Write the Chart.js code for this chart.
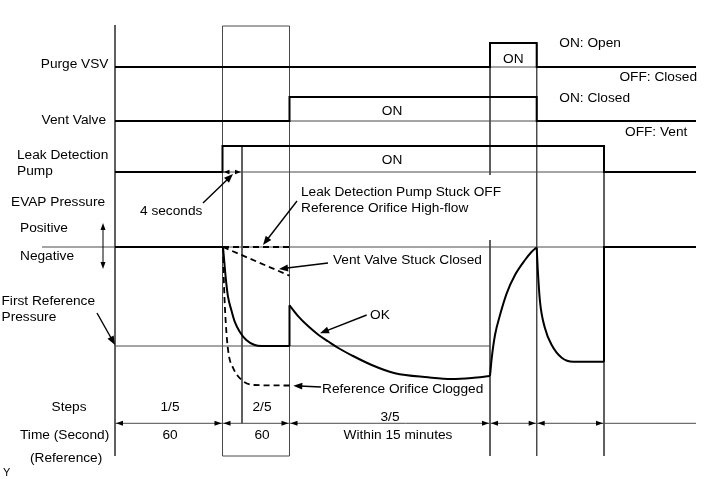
<!DOCTYPE html>
<html lang="en">
<head>
<meta charset="UTF-8" />
<title>EVAP Leak Check Timing</title>
<script src="https://cdn.jsdelivr.net/npm/chart.js@4.4.1/dist/chart.umd.min.js"></script>
<style>
  html, body { margin: 0; padding: 0; background: #fff; }
  #wrap { width: 711px; height: 479px; position: relative; }
</style>
</head>
<body>
<div id="wrap"><canvas id="timing"></canvas></div>
<script>
// --- data (diagram units: x = time position, y = signal level) ---
// digital signals: transition times and states (1 = ON)
const purgeTimes = [115, 490, 536.7, 696];
const purgeStates = [0, 1, 0, 0];
const ventTimes = [115, 289.5, 536.7, 696];
const ventStates = [0, 1, 0, 0];
const pumpTimes = [115, 222.5, 604, 696];
const pumpStates = [0, 1, 0, 0];

// EVAP pressure, OK trace
const okDropX = [223, 224.7, 226.3, 228, 231.3, 234.7, 239.7, 246.3, 254.7, 261.3, 289.5];
const okDropY = [247, 266.7, 283.3, 296.7, 310, 321.7, 331.7, 340, 345, 346, 346];
const okLeakX = [289.5, 298.3, 308.3, 318.3, 328.3, 338.3, 351.7, 371.7, 395, 428, 451.7, 471.7, 490];
const okLeakY = [305.3, 316.3, 326.3, 334.7, 341.5, 348, 355.3, 365, 373.3, 377.3, 379, 378, 376];
const okPurgeX = [490, 491.7, 495, 500, 506.7, 515, 525, 531.7, 536.7];
const okPurgeY = [376, 358.3, 335, 315, 293.3, 275, 260, 251.7, 247.5];
const okRecheckX = [536.7, 537.7, 540, 545, 551.7, 561.7, 573.3, 604];
const okRecheckY = [247.5, 268.3, 301.7, 328.3, 345, 357.7, 361.7, 361.7];

// fault traces
const pumpStuckX = [223, 289.5];
const pumpStuckY = [247, 247];
const ventStuckX = [223, 289.5];
const ventStuckY = [247, 275.7];
const cloggedX = [223, 224, 225.7, 228.3, 233.3, 241.7, 253.3, 290];
const cloggedY = [247, 285, 321.7, 351.7, 368.3, 380, 385, 385.5];

const negativeLevel = 247;
const firstRefLevel = 346;

// steps
const stepEdges = [115, 222.5, 289.5, 490, 536.7, 604];
const stepLabels = ['1/5', '2/5', '3/5'];
const timeLabels = ['60', '60', 'Within 15 minutes'];

// --- layout ---
const rows = { purge: [67, 43], vent: [121, 97], pump: [172, 146] };
const dimY = 423.3;
const FONT = '13.7px "Liberation Sans", Arial, sans-serif';

const zip = (xs, ys) => xs.map((x, i) => ({ x, y: ys[i] }));
const steps = (ts, ss, row) => ts.map((t, i) => ({ x: t, y: ss[i] ? row[1] : row[0] }));

function thin(points) {
  return { data: points, showLine: true, borderColor: '#4a4a4a', borderWidth: 1, pointRadius: 0, order: 2 };
}
function thick(points, curved, stepped) {
  return {
    data: points, showLine: true, borderColor: '#000', borderWidth: 2, pointRadius: 0, order: 1,
    cubicInterpolationMode: curved ? 'monotone' : 'default', stepped: !!stepped,
    borderJoinStyle: 'miter'
  };
}
function dashed(points, curved) {
  const d = thick(points, curved);
  d.borderDash = [6, 4];
  d.borderWidth = 1.8;
  return d;
}

const datasets = [
  // thick signals
  thick(steps(purgeTimes, purgeStates, rows.purge), false, true),
  thick(steps(ventTimes, ventStates, rows.vent), false, true),
  thick(steps(pumpTimes, pumpStates, rows.pump), false, true),
  thick([{ x: 115, y: negativeLevel }, { x: 223, y: negativeLevel }]),
  thick(zip(okDropX, okDropY), true),
  thick([{ x: 289.5, y: okDropY[okDropY.length - 1] }, { x: 289.5, y: okLeakY[0] }]),
  thick(zip(okLeakX, okLeakY), true),
  thick(zip(okPurgeX, okPurgeY), true),
  thick(zip(okRecheckX, okRecheckY), true),
  thick([{ x: 604, y: okRecheckY[okRecheckY.length - 1] }, { x: 604, y: negativeLevel }, { x: 696, y: negativeLevel }]),
  dashed(zip(pumpStuckX, pumpStuckY)),
  dashed(zip(ventStuckX, ventStuckY)),
  dashed(zip(cloggedX, cloggedY), true),
  // thin guides
  thin([{ x: 115, y: 25 }, { x: 115, y: 456 }]),
  thin([{ x: 222.5, y: 456 }, { x: 222.5, y: 26 }, { x: 289.5, y: 26 }, { x: 289.5, y: 456 }, { x: 222.5, y: 456 }]),
  thin([{ x: 242, y: rows.pump[1] }, { x: 242, y: dimY }]),
  thin([{ x: 490, y: rows.purge[0] }, { x: 490, y: 175 }]),
  thin([{ x: 490, y: 240 }, { x: 490, y: 456 }]),
  thin([{ x: 536.7, y: rows.purge[1] }, { x: 536.7, y: 456 }]),
  thin([{ x: 604, y: rows.pump[1] }, { x: 604, y: 456 }]),
  thin([{ x: 490, y: rows.purge[0] }, { x: 536.7, y: rows.purge[0] }]),
  thin([{ x: 289.5, y: rows.vent[0] }, { x: 536.7, y: rows.vent[0] }]),
  thin([{ x: 222.5, y: rows.pump[0] }, { x: 604, y: rows.pump[0] }]),
  thin([{ x: 42, y: negativeLevel }, { x: 696, y: negativeLevel }]),
  thin([{ x: 115, y: firstRefLevel }, { x: 490, y: firstRefLevel }]),
  thin([{ x: 115, y: dimY }, { x: 696, y: dimY }])
];

const texts = [
  ['Purge VSV', 108.5, 64.5, 'right'],
  ['Vent Valve', 106, 120, 'right'],
  ['Leak Detection', 17, 155.5, 'left'],
  ['Pump', 17, 171, 'left'],
  ['EVAP Pressure', 11, 202, 'left'],
  ['Positive', 20, 228, 'left'],
  ['Negative', 20, 256, 'left'],
  ['First Reference', 1.5, 301.7, 'left'],
  ['Pressure', 1.5, 317.3, 'left'],
  ['Steps', 51.5, 407.7, 'left'],
  ['Time (Second)', 20, 435.3, 'left'],
  ['(Reference)', 30, 458.3, 'left'],
  ['4 seconds', 140, 211, 'left'],
  ['Leak Detection Pump Stuck OFF', 301, 192, 'left'],
  ['Reference Orifice High-flow', 301, 208.5, 'left'],
  ['Vent Valve Stuck Closed', 333, 260.5, 'left'],
  ['OK', 370, 315.5, 'left'],
  ['Reference Orifice Clogged', 322, 389.3, 'left'],
  ['ON', 513.3, 59.3, 'center'],
  ['ON: Open', 559.3, 43.3, 'left'],
  ['OFF: Closed', 697, 77.3, 'right'],
  ['ON: Closed', 559.3, 98.3, 'left'],
  ['OFF: Vent', 625, 132.3, 'left'],
  ['ON', 392, 111, 'center'],
  ['ON', 392, 160.7, 'center']
];
const stepLabelPos = [[170, 407.7], [262, 407.7], [390, 417.5]];
const timeLabelPos = [[170, 435.5], [262, 435.5], [398, 435.5]];

// pointer arrows [fromX, fromY, toX, toY]
const arrows = [
  [97, 313, 115, 345],
  [203, 203, 233, 174],
  [297, 201, 263, 245],
  [328, 263, 279, 269],
  [366.7, 315, 320, 333.3],
  [321, 387, 293.3, 385.7]
];

function head(ctx, x, y, ang, len, w) {
  ctx.beginPath();
  ctx.moveTo(x, y);
  ctx.lineTo(x - len * Math.cos(ang) + w * Math.sin(ang), y - len * Math.sin(ang) - w * Math.cos(ang));
  ctx.lineTo(x - len * Math.cos(ang) - w * Math.sin(ang), y - len * Math.sin(ang) + w * Math.cos(ang));
  ctx.closePath();
  ctx.fill();
}

const annotate = {
  id: 'annotate',
  afterDatasetsDraw(chart) {
    const ctx = chart.ctx;
    const X = v => chart.scales.x.getPixelForValue(v);
    const Y = v => chart.scales.y.getPixelForValue(v);
    ctx.save();
    ctx.fillStyle = '#000';
    ctx.strokeStyle = '#000';
    ctx.font = FONT;
    ctx.textBaseline = 'middle';
    texts.forEach(([t, x, y, a]) => {
      ctx.textAlign = a;
      ctx.fillText(t, X(x), Y(y));
    });
    ctx.textAlign = 'center';
    stepLabels.forEach((t, i) => ctx.fillText(t, X(stepLabelPos[i][0]), Y(stepLabelPos[i][1])));
    timeLabels.forEach((t, i) => ctx.fillText(t, X(timeLabelPos[i][0]), Y(timeLabelPos[i][1])));
    ctx.font = '11px "Liberation Sans", Arial, sans-serif';
    ctx.textAlign = 'left';
    ctx.fillText('Y', X(3), Y(472.5));

    // pointer arrows
    ctx.lineWidth = 1.4;
    arrows.forEach(([x1, y1, x2, y2]) => {
      const ang = Math.atan2(Y(y2) - Y(y1), X(x2) - X(x1));
      ctx.beginPath();
      ctx.moveTo(X(x1), Y(y1));
      ctx.lineTo(X(x2) - 6 * Math.cos(ang), Y(y2) - 6 * Math.sin(ang));
      ctx.stroke();
      head(ctx, X(x2), Y(y2), ang, 9, 3.5);
    });

    // step dimension arrowheads
    for (let i = 0; i < stepEdges.length - 1; i++) {
      head(ctx, X(stepEdges[i]) + 1, Y(dimY), Math.PI, 7, 2.5);
      head(ctx, X(stepEdges[i + 1]) - 1, Y(dimY), 0, 7, 2.5);
    }
    // 4 second dimension
    head(ctx, X(223.5), Y(rows.pump[0]), Math.PI, 6, 2.2);
    head(ctx, X(241), Y(rows.pump[0]), 0, 6, 2.2);
    // positive / negative double arrow
    ctx.lineWidth = 1;
    ctx.beginPath();
    ctx.moveTo(X(103), Y(226));
    ctx.lineTo(X(103), Y(266));
    ctx.stroke();
    head(ctx, X(103), Y(223), -Math.PI / 2, 7, 2.5);
    head(ctx, X(103), Y(269), Math.PI / 2, 7, 2.5);
    ctx.restore();
  }
};

new Chart(document.getElementById('timing'), {
  type: 'scatter',
  data: { datasets },
  options: {
    responsive: true,
    maintainAspectRatio: false,
    animation: false,
    layout: { padding: 0 },
    scales: {
      x: { type: 'linear', min: 0, max: 711, display: false },
      y: { type: 'linear', min: 0, max: 479, reverse: true, display: false }
    },
    plugins: { legend: { display: false }, tooltip: { enabled: false } }
  },
  plugins: [annotate]
});
</script>
</body>
</html>
